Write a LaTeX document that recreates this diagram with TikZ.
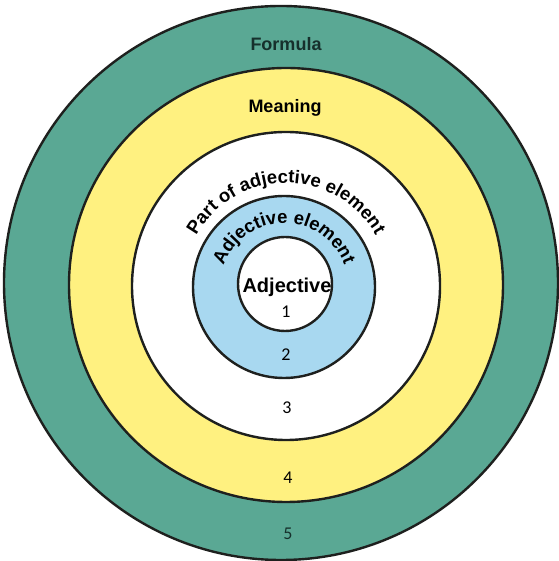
\documentclass[tikz,border=0pt]{standalone}
\usepackage{fontspec}
\setmainfont{Liberation Sans}
\newfontfamily\numfont{Carlito}
\usetikzlibrary{decorations.text}
\definecolor{tealring}{RGB}{90,168,148}
\definecolor{yellowring}{RGB}{255,241,128}
\definecolor{bluering}{RGB}{168,216,240}
\definecolor{ringline}{RGB}{30,32,30}
\definecolor{tealtext}{RGB}{22,48,44}
\begin{document}
\begin{tikzpicture}[x=1pt,y=1pt,
  ring/.style={circle, draw=ringline, line width=2.4pt, inner sep=0pt},
  lab/.style={font=\bfseries\fontsize{18}{21}\selectfont},
  num/.style={font=\numfont\fontsize{18}{20}\selectfont}]
\useasboundingbox (0,0) rectangle (558,561);
\fill[white] (0,0) rectangle (558,561);
\node[ring, fill=tealring, minimum size=554pt] (c5) at (281,278) {};
\node[ring, fill=yellowring, minimum size=434pt] (c4) at (286,276) {};
\node[ring, fill=white, minimum size=308pt] (c3) at (286,275) {};
\node[ring, fill=bluering, minimum size=182pt] (c2) at (284,274) {};
\node[ring, fill=white, minimum size=94pt] (c1) at (285,277) {};
% labels
\node[lab, text=tealtext] (tformula) at (286,517) {Formula};
\node[lab] (tmeaning) at (285,453) {Meaning};
\node[font=\bfseries\fontsize{20}{22}\selectfont] (tadj) at (287,274) {Adjective};
\path[decorate, decoration={text along path, text align=center,
  text={|\bfseries\fontsize{18.5}{21}\selectfont|Part of adjective element}}]
  ([shift={(180:103)}]c3.center) arc[start angle=180, end angle=0, radius=103];
\path[decorate, decoration={text along path, text align=center,
  text={|\bfseries\fontsize{18.5}{21}\selectfont|Adjective element}}]
  ([shift={(180:64)}]c2.center) arc[start angle=180, end angle=0, radius=64];
% numbers
\node[num] (n1) at (286,249) {1};
\node[num] (n2) at (286,206) {2};
\node[num] (n3) at (287,153) {3};
\node[num] (n4) at (288,83) {4};
\node[num, text=tealtext] (n5) at (288,27) {5};
\end{tikzpicture}
\end{document}
